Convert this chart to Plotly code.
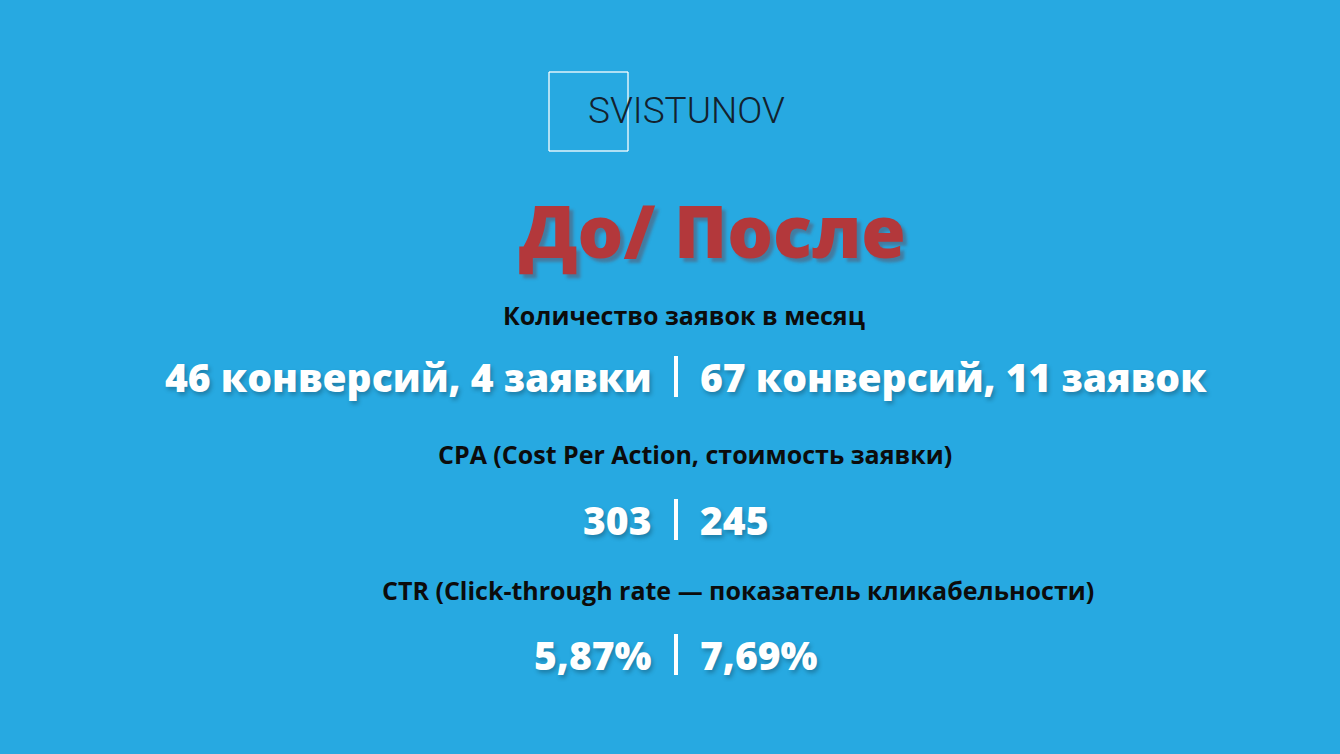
import plotly.graph_objects as go

W, H = 1340, 754

logo_text = "SVISTUNOV"
title_text = "До/ После"
metric_names = [
    "Количество заявок в месяц",
    "CPA (Cost Per Action, стоимость заявки)",
    "CTR (Click-through rate — показатель кликабельности)",
]
before_values = ["46 конверсий, 4 заявки", "303", "5,87%"]
after_values = ["67 конверсий, 11 заявок", "245", "7,69%"]

heading_y = [315, 454, 590]
value_y = [376, 519, 654]
heading_x = [684, 695, 738]
sep_x = 676

BG = "#27a9e1"
FONT = "Open Sans"
shadow = "2px 3px 4px rgba(0,0,0,0.25)"

fig = go.Figure()
annotations = []
shapes = []

annotations.append(dict(x=586, y=110, text=logo_text, showarrow=False, xanchor="left",
                        font=dict(family="Roboto", size=37, color="#13222e", weight=300)))
line_style = dict(color="rgba(255,255,255,0.85)", width=1.5)
shapes += [
    dict(type="line", x0=549, y0=72, x1=628, y1=72, line=line_style),
    dict(type="line", x0=549, y0=72, x1=549, y1=151, line=line_style),
    dict(type="line", x0=628, y0=72, x1=628, y1=151, line=line_style),
    dict(type="line", x0=549, y0=151, x1=628, y1=151, line=line_style),
]

annotations.append(dict(x=712, y=230, text=title_text, showarrow=False,
                        font=dict(family=FONT, size=72, color="#b3383b", weight=800,
                                  shadow="4px 4px 3px rgba(120,40,40,0.35)")))

for name, b, a, hx, hy, vy in zip(metric_names, before_values, after_values,
                                   heading_x, heading_y, value_y):
    annotations.append(dict(x=hx, y=hy, text=name, showarrow=False,
                            font=dict(family=FONT, size=25, color="#0c0c0c", weight=700)))
    annotations.append(dict(x=sep_x - 22, y=vy, text=b, showarrow=False, xanchor="right",
                            font=dict(family=FONT, size=39, color="white", weight=800, shadow=shadow)))
    annotations.append(dict(x=sep_x + 22, y=vy, text=a, showarrow=False, xanchor="left",
                            font=dict(family=FONT, size=39, color="white", weight=800, shadow=shadow)))
    shapes.append(dict(type="line", x0=sep_x, x1=sep_x, y0=vy - 20, y1=vy + 21,
                       line=dict(color="white", width=4)))

for s in shapes:
    s.update(xref="x", yref="y", layer="above")
for an in annotations:
    an.update(xref="x", yref="y")

fig.update_layout(
    width=W, height=H, margin=dict(l=0, r=0, t=0, b=0),
    paper_bgcolor=BG, plot_bgcolor=BG,
    xaxis=dict(range=[0, W], visible=False, fixedrange=True),
    yaxis=dict(range=[H, 0], visible=False, fixedrange=True),
    annotations=annotations, shapes=shapes, showlegend=False,
)
fig.write_html("out.html", config=dict(displayModeBar=False),
               post_script="document.body.style.margin='0';document.body.style.background='%s';" % BG)
